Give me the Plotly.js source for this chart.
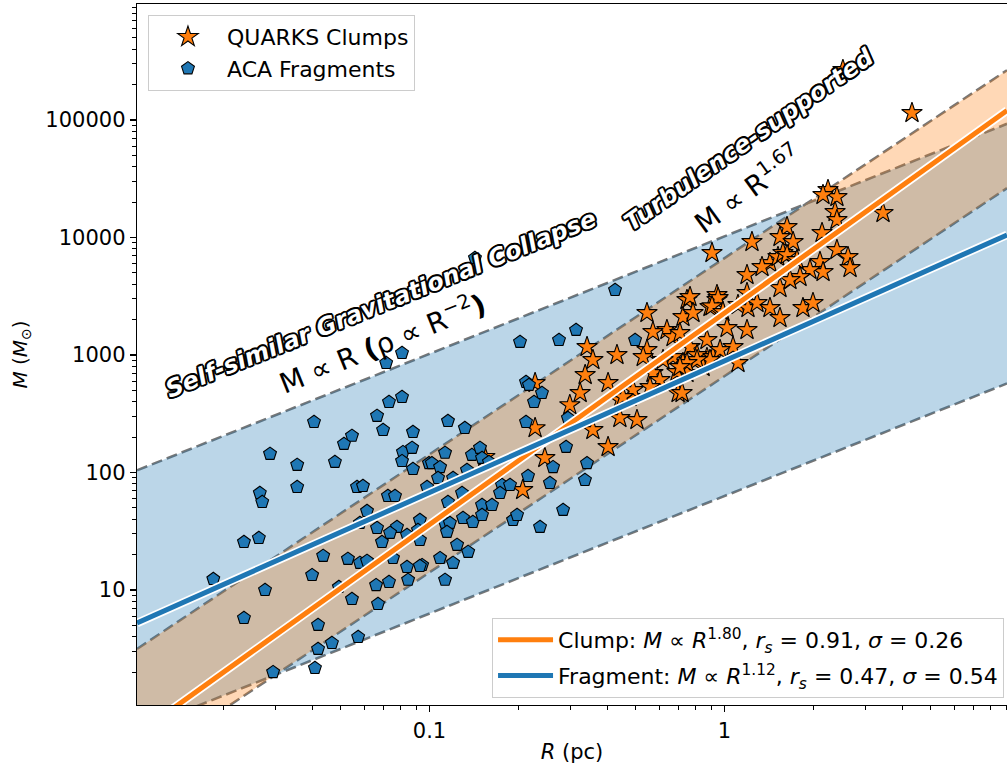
<!DOCTYPE html>
<html><head><meta charset="utf-8">
<script src="https://cdn.plot.ly/plotly-3.0.1.min.js"></script>
<style>body{margin:0;background:#fff}#chart{width:1007px;height:769px}</style>
</head><body><div id="chart"></div>
<script>
// ---- data ----
const clumpR = [0.907,0.746,0.546,0.893,0.943,0.723,0.638,0.572,0.669,0.706,0.342,0.358,0.432,0.546,0.530,0.764,0.872,0.337,0.324,0.403,0.228,0.299,0.442,0.478,0.505,0.442,0.358,0.228,0.403,0.246,0.207,0.154,0.872,0.807,0.723,0.669,0.619,0.572,0.604,0.690,0.746,0.846,0.914,0.559,0.490,0.453,0.696,2.52,4.32,2.243,2.405,2.157,2.37,2.405,3.446,1.629,1.542,1.708,1.239,2.141,2.405,2.622,2.664,2.107,2.158,1.426,1.518,1.578,1.192,1.340,1.542,1.949,1.803,0.943,0.764,1.192,1.629,1.761,0.951,0.907,0.988,0.782,1.111,1.201,1.289,1.426,1.542,1.845,1.995,1.667,1.192,1.02,1.069,0.966,0.893,0.807,0.746,0.706,1.111,0.718];
const clumpM = [7380,2940,2277,2563,2940,2105,1633,1570,1422,1538,1170,907,1000,1103,962,1170,1342,676,475,578,578,375,414,439,280,291,230,239,165,133,71,136,943,1000,855,962,907,703,613,717,703,791,962,534,504,439,475,266500,114800,25360,22130,23000,16490,14090,16170,12280,10100,9160,9160,10920,7830,6820,5500,6185,5085,6070,6820,7380,4800,5610,3717,5290,4613,3243,3118,3372,7100,6435,3055,2600,2323,2277,2666,2512,2772,2512,2065,2512,2772,4348,1633,1698,1170,1103,907,907,855,791,855,475];
const fragR = [0.0807,0.0713,0.0807,0.0729,0.0664,0.0696,0.0879,0.0406,0.0546,0.0513,0.0288,0.0356,0.0478,0.0813,0.0873,0.0807,0.0879,0.0356,0.0266,0.0568,0.0595,0.0723,0.0764,0.0996,0.1426,0.4256,0.2027,0.2748,0.3139,0.4976,0.2124,0.2174,0.2406,0.2261,0.1155,0.1318,0.2124,0.2946,0.1129,0.1019,0.1086,0.1393,0.1483,0.1507,0.1069,0.1202,0.1340,0.1289,0.1761,0.1875,0.1734,0.2158,0.2623,0.2560,0.3419,0.3365,0.2904,0.1591,0.0981,0.1155,0.1507,0.1629,0.1299,0.1403,0.1507,0.1919,0.1981,0.2370,0.2837,0.1129,0.1173,0.1146,0.1240,0.1352,0.1086,0.1202,0.0944,0.1129,0.0271,0.0614,0.0581,0.0664,0.0776,0.0735,0.0839,0.0928,0.0914,0.0928,0.0690,0.0235,0.0264,0.0436,0.0529,0.0581,0.0614,0.0752,0.0839,0.0928,0.0400,0.0185,0.0277,0.0493,0.0659,0.0729,0.0846,0.0546,0.0669,0.0235,0.0419,0.0573,0.0467,0.0419,0.0409,0.0295];
const fragM = [1040,855,439,398,303,230,221,269,205,175,144,116,123,149,162,125,107,75.3,66.9,75.3,76.7,63.1,63.1,120,6690,3575,1291,1342,1633,1342,589,556,475,398,274,239,269,291,147,120,111,141,162,133,89.8,89.8,105,66.9,78.3,78.3,66.9,93.4,111,81.4,120,86.3,165,123,75.3,56.1,52.9,52.9,41.0,37.9,43.5,39.4,43.5,34.4,48.0,37.2,37.2,31.2,24.2,21.1,18.7,17.0,16.3,12.2,56.1,47.0,37.2,33.7,34.4,30.6,29.4,39.4,32.4,26.6,25.6,25.6,27.7,19.5,18.4,17.0,17.7,18.7,15.7,16.0,13.4,12.4,10.0,10.6,11.0,11.7,12.2,8.38,7.60,5.78,5.04,3.98,3.54,3.15,2.17,2.00];

const scatterNames = ['QUARKS Clumps', 'ACA Fragments'];
const fitNames = ['Clump', 'Fragment'];
const fitNorm = [2275, 890];      // M at R = 1 pc
const fitIndex = [1.80, 1.12];
const fitRs = [0.91, 0.47];
const fitSigma = [0.26, 0.54];

const bandIndex = [1.0, 1.67];
const bandUpper = [10230, 6670];
const bandLower = [63.1, 661];
const bandTitles = ['Self-similar Gravitational Collapse', 'Turbulence-supported'];
const bandRelations = ['M ∝ R <b>(</b>ρ ∝ R<sup>−2</sup><b>)</b>', 'M ∝ R<sup>1.67</sup>'];

const xTickVals = [0.1, 1];
const xTickText = ['0.1', '1'];
const yTickVals = [10, 100, 1000, 10000, 100000];
const yTickText = ['10', '100', '1000', '10000', '100000'];

// ---- styling / construction ----
const xLogRange = [-1.9915, 0.9576];
const yLogRange = [0.0213, 5.987];
const FONT = 'DejaVu Sans';
const C0 = '#1f77b4', C1 = '#ff7f0e';

const xs = [];
for (let i = 0; i <= 60; i++) xs.push(Math.pow(10, xLogRange[0] + (xLogRange[1] - xLogRange[0]) * i / 60));

const traces = [];
for (let b = 0; b < 2; b++) {
  [bandUpper[b], bandLower[b]].forEach(n => {
    traces.push({x: xs, y: xs.map(r => n * Math.pow(r, bandIndex[b])), mode: 'lines',
      line: {color: '#767676', width: 2.6, dash: '11px,5px'}, showlegend: false, hoverinfo: 'skip'});
  });
}
const bandFill = ['rgba(31,119,180,0.3)', 'rgba(255,127,14,0.3)'];
for (let b = 0; b < 2; b++) {
  const up = xs.map(r => bandUpper[b] * Math.pow(r, bandIndex[b]));
  const lo = xs.map(r => bandLower[b] * Math.pow(r, bandIndex[b]));
  traces.push({x: xs.concat(xs.slice().reverse()), y: up.concat(lo.reverse()), mode: 'lines',
    fill: 'toself', fillcolor: bandFill[b], line: {width: 0}, showlegend: false, hoverinfo: 'skip'});
}
traces.push({x: clumpR, y: clumpM, mode: 'markers', name: scatterNames[0], legend: 'legend', legendgroup: 'a',
  marker: {symbol: 'star', size: 15.5, color: C1, line: {color: '#000', width: 1.1}}});
traces.push({x: fragR, y: fragM, mode: 'markers', name: scatterNames[1], legend: 'legend', legendgroup: 'b',
  marker: {symbol: 'pentagon', size: 13.5, color: C0, line: {color: '#000', width: 1.1}}});
const fitColors = [C1, C0];
for (let f = 0; f < 2; f++) {
  const ys = xs.map(r => fitNorm[f] * Math.pow(r, fitIndex[f]));
  traces.push({x: xs, y: ys, mode: 'lines', line: {color: '#ffffff', width: 8.5}, showlegend: false, hoverinfo: 'skip'});
  traces.push({x: xs, y: ys, mode: 'lines', line: {color: fitColors[f], width: 5}, legend: 'legend2', legendgroup: 'f' + f,
    name: fitNames[f] + ': <i>M</i> ∝ <i>R</i><sup>' + fitIndex[f].toFixed(2) + '</sup>, <i>r<sub>s</sub></i> = ' +
      fitRs[f].toFixed(2) + ', <i>σ</i> = ' + fitSigma[f].toFixed(2)});
}

function minorVals(k0, k1, lo, hi) {
  const v = [];
  for (let k = k0; k <= k1; k++) for (let m = 2; m <= 9; m++) {
    const t = m * Math.pow(10, k); if (Math.log10(t) > lo && Math.log10(t) < hi) v.push(t);
  }
  return v;
}

const outline = '2px 0 0 #000, -2px 0 0 #000, 0 2px 0 #000, 0 -2px 0 #000, 1.5px 1.5px 0 #000, -1.5px -1.5px 0 #000, 1.5px -1.5px 0 #000, -1.5px 1.5px 0 #000';
const annotations = [
  {text: bandTitles[0], x: 0.2805, y: 0.572, textangle: -22,
   font: {family: FONT, size: 24, color: '#ffffff', weight: 'bold', style: 'italic', shadow: outline}},
  {text: bandRelations[0], x: 0.2816, y: 0.5178, textangle: -22,
   font: {family: FONT, size: 28, color: '#000000'}},
  {text: bandTitles[1], x: 0.703, y: 0.806, textangle: -35,
   font: {family: FONT, size: 24, color: '#ffffff', weight: 'bold', style: 'italic', shadow: outline}},
  {text: bandRelations[1], x: 0.702, y: 0.737, textangle: -36,
   font: {family: FONT, size: 28, color: '#000000'}}
].map(a => Object.assign({xref: 'paper', yref: 'paper', showarrow: false, xanchor: 'center', yanchor: 'middle'}, a));

const layout = {
  width: 1007, height: 769,
  margin: {l: 137, r: 0, t: 4, b: 64},
  paper_bgcolor: '#ffffff', plot_bgcolor: '#ffffff',
  font: {family: FONT, size: 22, color: '#000'},
  showlegend: true,
  xaxis: {type: 'log', range: xLogRange, tickvals: xTickVals, ticktext: xTickText,
    ticks: 'outside', ticklen: 6, tickwidth: 1.2, tickcolor: '#000',
    showline: true, linecolor: '#000', linewidth: 1.3, mirror: true, showgrid: false, zeroline: false,
    tickfont: {family: FONT, size: 21},
    minor: {tickvals: minorVals(-2, 0, xLogRange[0], xLogRange[1]), ticks: 'outside', ticklen: 3.5, tickwidth: 1, tickcolor: '#000', showgrid: false},
    title: {text: '<i>R</i> (pc)', font: {family: FONT, size: 21}, standoff: 2}},
  yaxis: {type: 'log', range: yLogRange, tickvals: yTickVals, ticktext: yTickText,
    ticks: 'outside', ticklen: 6, tickwidth: 1.2, tickcolor: '#000',
    showline: true, linecolor: '#000', linewidth: 1.3, mirror: false, showgrid: false, zeroline: false,
    tickfont: {family: FONT, size: 21},
    minor: {tickvals: minorVals(0, 5, yLogRange[0], yLogRange[1]), ticks: 'outside', ticklen: 3.5, tickwidth: 1, tickcolor: '#000', showgrid: false},
    title: {text: '<i>M</i> (<i>M</i><sub>⊙</sub>)', font: {family: FONT, size: 20}, standoff: 12}},
  legend: {x: 0.0126, y: 0.9843, xanchor: 'left', yanchor: 'top', bgcolor: 'rgba(255,255,255,0.85)',
    bordercolor: '#cccccc', borderwidth: 1, font: {family: FONT, size: 22}, traceorder: 'grouped', tracegroupgap: 0,
    itemsizing: 'trace', itemwidth: 68},
  legend2: {x: 0.9966, y: 0.01, xanchor: 'right', yanchor: 'bottom', bgcolor: 'rgba(255,255,255,0.85)',
    bordercolor: '#cccccc', borderwidth: 1, font: {family: FONT, size: 22}, traceorder: 'grouped', tracegroupgap: 4, itemwidth: 55},
  annotations: annotations
};

Plotly.newPlot('chart', traces, layout, {displayModeBar: false, staticPlot: true});
</script></body></html>
